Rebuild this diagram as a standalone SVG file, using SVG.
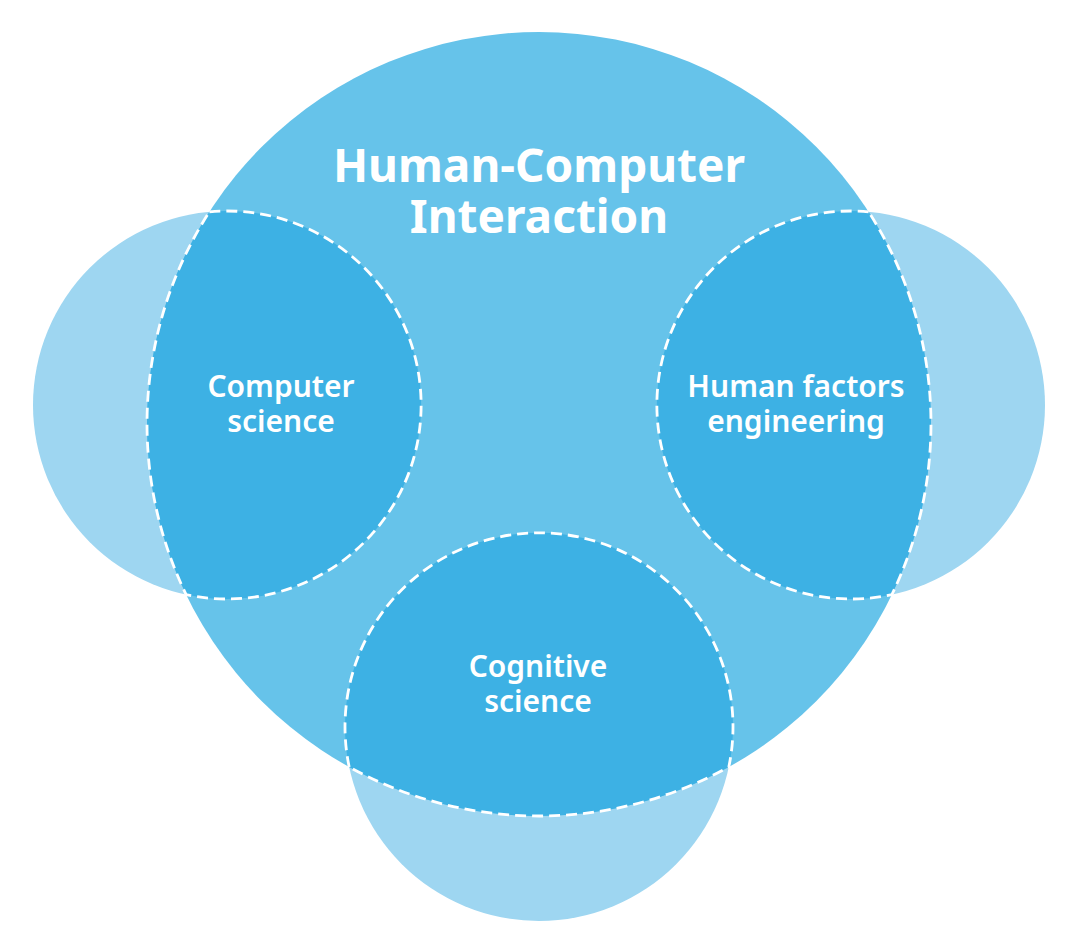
<svg xmlns="http://www.w3.org/2000/svg" width="1080" height="943" viewBox="0 0 1080 943">
  <style>
    .outer { fill: #9ED6F1; }
    .main { fill: #66C3EA; }
    .lens { fill: #3DB1E4; stroke: #FFFFFF; stroke-width: 2.8; stroke-dasharray: 11 6; }
    .title { font-family: "Noto Sans", "Open Sans", sans-serif; font-weight: 700; font-size: 46px; fill: #FFFFFF; text-anchor: middle; }
    .label { font-family: "Noto Sans", "Open Sans", sans-serif; font-weight: 600; font-size: 30px; fill: #FFFFFF; text-anchor: middle; }
  </style>
  <rect width="1080" height="943" fill="#FFFFFF"/>
  <g id="outer-circles">
    <circle class="outer" cx="227" cy="405" r="194"/>
    <circle class="outer" cx="851" cy="405" r="194"/>
    <circle class="outer" cx="539" cy="727" r="194"/>
  </g>
  <g id="hci">
    <circle class="main" cx="539" cy="424" r="392"/>
    <text class="title" x="539" y="182">Human-Computer</text>
    <text class="title" x="539" y="233">Interaction</text>
  </g>
  <g id="computer-science">
    <path class="lens" d="M209.4,211.8 A194,194 0 1 1 186.1,594.6 A392,392 0 0 1 209.4,211.8 Z"/>
    <text class="label" x="281" y="397">Computer</text>
    <text class="label" x="281" y="432">science</text>
  </g>
  <g id="human-factors-engineering">
    <path class="lens" d="M868.6,211.8 A194,194 0 1 0 891.9,594.6 A392,392 0 0 0 868.6,211.8 Z"/>
    <text class="label" x="796" y="397">Human factors</text>
    <text class="label" x="796" y="432">engineering</text>
  </g>
  <g id="cognitive-science">
    <path class="lens" d="M349.2,767 A194,194 0 1 1 728.8,767 A392,392 0 0 1 349.2,767 Z"/>
    <text class="label" x="538" y="677">Cognitive</text>
    <text class="label" x="538" y="712">science</text>
  </g>
  <g id="connectors"></g>
</svg>
